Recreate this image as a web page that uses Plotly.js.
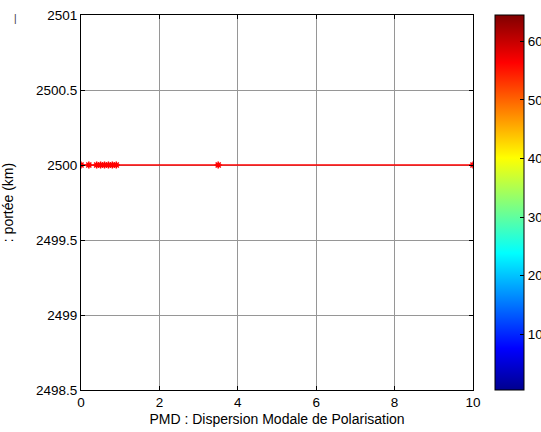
<!DOCTYPE html>
<html>
<head>
<meta charset="utf-8">
<script src="https://cdn.plot.ly/plotly-3.0.1.min.js"></script>
<style>html,body{margin:0;padding:0;background:#fff;}#chart{width:541px;height:432px;}</style>
</head>
<body>
<div id="chart"></div>
<script>
var pmdValues = [0, 0.2, 0.4, 0.5, 0.6, 0.7, 0.8, 0.9, 3.5, 10];
var porteeValues = [2500, 2500, 2500, 2500, 2500, 2500, 2500, 2500, 2500, 2500];
var xTicks = [0, 2, 4, 6, 8, 10];
var yTicks = [2498.5, 2499, 2499.5, 2500, 2500.5, 2501];
var colorbarTicks = [10, 20, 30, 40, 50, 60];
var colorRange = [0.5, 64.5];

var jet = [
  [0, 'rgb(0,0,143)'],
  [0.111, 'rgb(0,0,255)'],
  [0.365, 'rgb(0,255,255)'],
  [0.619, 'rgb(255,255,0)'],
  [0.873, 'rgb(255,0,0)'],
  [1, 'rgb(128,0,0)']
];

var ff = 'Liberation Sans, Arial, sans-serif';
var tickFont = {family: ff, size: 13.5, color: '#000'};
var titleFont = {family: ff, size: 14, color: '#000'};

var traces = [
  {
    x: pmdValues, y: porteeValues, type: 'scatter', mode: 'lines+markers',
    line: {color: 'rgb(255,0,0)', width: 1.5},
    marker: {symbol: 'asterisk-open', size: 6, color: 'rgb(255,0,0)', line: {color: 'rgb(255,0,0)', width: 1.5}},
    showlegend: false, hoverinfo: 'skip'
  },
  {
    x: [null, null], y: [null, null], type: 'scatter', mode: 'markers',
    marker: {
      color: colorRange, cmin: colorRange[0], cmax: colorRange[1], colorscale: jet, showscale: true,
      colorbar: {
        x: 1.056, xanchor: 'left', xref: 'paper', y: 0.5, yanchor: 'middle', len: 1, lenmode: 'fraction',
        thickness: 29, thicknessmode: 'pixels',
        outlinecolor: '#000', outlinewidth: 1,
        tickvals: colorbarTicks, ticktext: colorbarTicks.map(String),
        ticks: 'inside', ticklen: 4, tickcolor: '#000',
        tickfont: tickFont, xpad: 0, ypad: 0
      }
    },
    showlegend: false, hoverinfo: 'skip'
  }
];

var layout = {
  width: 541, height: 432,
  margin: {l: 81, r: 68, t: 15, b: 42, autoexpand: false},
  paper_bgcolor: '#fff', plot_bgcolor: '#fff',
  font: tickFont,
  showlegend: false,
  xaxis: {
    range: [0, 10], tickvals: xTicks, ticktext: xTicks.map(String),
    showgrid: true, gridcolor: 'rgb(150,150,150)', gridwidth: 1,
    zeroline: false, showline: true, linecolor: '#000', linewidth: 1, mirror: 'ticks',
    ticks: 'inside', ticklen: 4, tickcolor: '#000',
    tickfont: tickFont, automargin: false,
    title: {text: 'PMD : Dispersion Modale de Polarisation', font: titleFont, standoff: 4}
  },
  yaxis: {
    range: [2498.5, 2501], tickvals: yTicks, ticktext: yTicks.map(String),
    showgrid: true, gridcolor: 'rgb(150,150,150)', gridwidth: 1,
    zeroline: false, showline: true, linecolor: '#000', linewidth: 1, mirror: 'ticks',
    ticks: 'inside', ticklen: 4, tickcolor: '#000',
    tickfont: tickFont, automargin: false,
    title: {text: ': portée (km)', font: titleFont, standoff: 20}
  },
  annotations: [
    {text: '|', xref: 'paper', yref: 'paper', x: -0.168, y: 1.01, xanchor: 'center', yanchor: 'top',
     showarrow: false, font: {family: ff, size: 10, color: '#333'}}
  ]
};

Plotly.newPlot('chart', traces, layout, {displayModeBar: false, staticPlot: true});
</script>
</body>
</html>
